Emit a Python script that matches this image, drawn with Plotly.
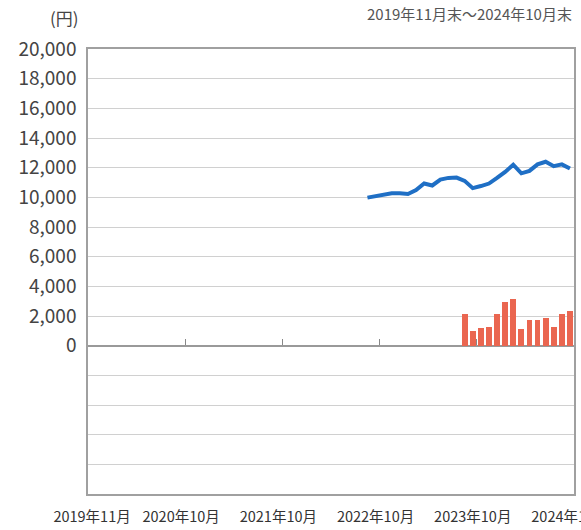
import plotly.graph_objects as go
import pandas as pd

# Monthly categories 2019-11 .. 2024-10
months = [f"{p.year}年{p.month}月" for p in pd.period_range("2019-11", "2024-10", freq="M")]

# Line series (blue), from 2022年9月 to 2024年10月
line_months = months[34:]
line_values = [9980, 10070, 10180, 10270, 10270, 10220, 10490, 10930, 10800, 11200,
               11310, 11330, 11110, 10620, 10760, 10930, 11310, 11710, 12200, 11620,
               11780, 12220, 12400, 12100, 12220, 11940]

# Bar series (red), from 2023年9月 to 2024年10月
bar_months = months[46:]
bar_values = [2160, 1010, 1170, 1240, 2160, 2930, 3150, 1130, 1740, 1740,
              1870, 1240, 2140, 2360]

# Axis ticks
x_label_months = ["2019年11月", "2020年10月", "2021年10月", "2022年10月", "2023年10月", "2024年10月"]
y_grid = list(range(-10000, 20001, 2000))
y_text = [f"{v:,}" if v >= 0 else "" for v in y_grid]
boundary_ticks = [months.index(m) + 0.5 for m in ["2020年10月", "2021年10月", "2022年10月", "2023年10月"]]

fig = go.Figure()
fig.add_trace(go.Bar(x=bar_months, y=bar_values, width=0.72,
                     marker=dict(color="#ea6650", line=dict(width=0)),
                     showlegend=False))
fig.add_trace(go.Scatter(x=line_months, y=line_values, mode="lines",
                         line=dict(color="#1f6fc5", width=4),
                         showlegend=False))

font = "Noto Sans CJK JP"
fig.update_layout(
    width=581, height=530,
    margin=dict(l=88, r=7, t=49, b=36),
    paper_bgcolor="white", plot_bgcolor="white",
    font=dict(family=font, color="#444"),
    bargap=0,
    xaxis=dict(type="category", categoryorder="array", categoryarray=months,
               range=[-0.5, len(months) - 0.5], automargin=False,
               tickvals=x_label_months, ticktext=x_label_months,
               tickfont=dict(size=14.5, color="#333"),
               ticks="", showgrid=False, zeroline=False,
               showline=True, mirror=True, linecolor="#a0a0a0", linewidth=1.5,
               ticklabelstandoff=9, tickangle=0),
    xaxis2=dict(overlaying="x", anchor="free", position=1/3,
                range=[-0.5, len(months) - 0.5], automargin=False,
                tickvals=boundary_ticks, ticks="inside", ticklen=6, tickwidth=1.2,
                tickcolor="#888", showticklabels=False, showgrid=False,
                zeroline=False, showline=True, linecolor="#999", linewidth=1.5,
                layer="below traces"),
    yaxis=dict(range=[-10000, 20000], tickvals=y_grid, ticktext=y_text,
               tickfont=dict(size=19, color="#444"), automargin=False,
               showgrid=True, gridcolor="#d0d0d0", gridwidth=1.2,
               zeroline=False, showline=True, mirror=True,
               linecolor="#a0a0a0", linewidth=1.5, ticks="",
               ticklabelstandoff=6),
)
fig.add_trace(go.Scatter(x=[None], y=[None], xaxis="x2", showlegend=False, hoverinfo="skip"))

fig.add_annotation(text="(円)", xref="paper", yref="paper", x=-0.014, y=1.07,
                   xanchor="right", yanchor="middle", showarrow=False,
                   font=dict(size=17, color="#444", family=font))
fig.add_annotation(text="2019年11月末～2024年10月末", xref="paper", yref="paper",
                   x=1.0, y=1.108, xanchor="right", yanchor="top", showarrow=False,
                   font=dict(size=15, color="#555", family=font))

fig.write_html("out.html", config={"displayModeBar": False},
               post_script="document.body.style.margin='0';document.body.style.overflow='hidden';")
